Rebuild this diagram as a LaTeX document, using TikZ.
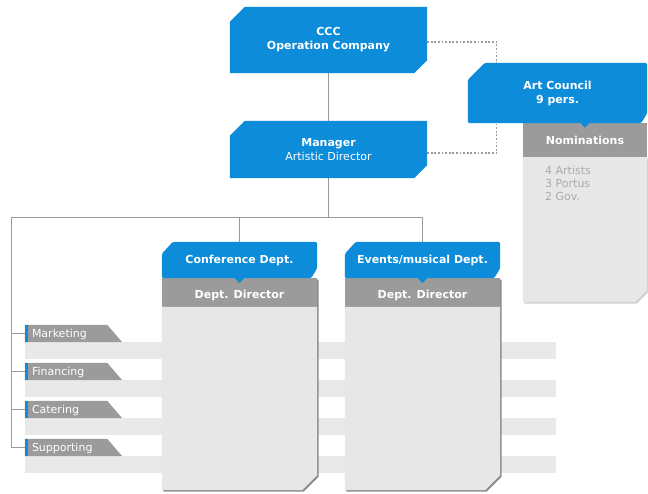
\documentclass[tikz,border=0pt]{standalone}
\usepackage{fontspec}
\setmainfont{DejaVu Sans}
\usetikzlibrary{backgrounds}
\definecolor{cblue}{HTML}{0C8CD9}
\definecolor{chead}{HTML}{9B9B9B}
\definecolor{cbody}{HTML}{E7E7E7}
\definecolor{cband}{HTML}{E9E9E9}
\definecolor{cline}{HTML}{9A9A9A}
\definecolor{cshadow}{HTML}{8C8C8C}
\definecolor{ctxt}{HTML}{ABABAB}
\begin{document}
\begin{tikzpicture}[x=1pt,y=-1pt,font=\fontsize{11}{14}\selectfont,
  box/.style={inner sep=0pt,text=white,align=center},
  tab/.style={inner ysep=0pt,inner xsep=7pt,text width=83pt,align=left,text=white,
    minimum height=17pt,text height=10pt,text depth=2pt},
  conn/.style={draw=cline,line width=1pt},
  dots/.style={draw=cline,line width=1.2pt,dash pattern=on 1.8pt off 1.8pt}]
\useasboundingbox (0,0) rectangle (648,493);
% ---------- nodes ----------
\node[box,minimum width=197pt,minimum height=66pt] (ccc) at (328.5,40)
  {\textbf{CCC}\\\textbf{Operation Company}};
\node[box,minimum width=197pt,minimum height=57pt] (mgr) at (328.5,149.5)
  {\textbf{Manager}\\Artistic Director};
\node[box,minimum width=179pt,minimum height=60pt] (art) at (557.5,93)
  {\textbf{Art Council}\\\textbf{9 pers.}};
\node[box,minimum width=124pt,minimum height=34pt] (nom) at (585,140)
  {\textbf{Nominations}};
\node[box,minimum width=124pt,minimum height=145pt] (nomb) at (585,229.5) {};
\node[anchor=north west,inner sep=0pt,text=ctxt,align=left,
  font=\fontsize{11}{13}\selectfont] (nomt) at (545,166)
  {4 Artists\\3 Portus\\2 Gov.};
% departments
\node[box,minimum width=155pt,minimum height=36pt] (conft) at (239.5,260)
  {\textbf{Conference Dept.}};
\node[box] (confd) at (239.5,295.5) {\textbf{Dept. Director}};
\node[box,minimum width=155pt,minimum height=183pt] (confb) at (239.5,398.5) {};
\node[box,minimum width=155pt,minimum height=36pt] (evtt) at (422.5,260)
  {\textbf{Events/musical Dept.}};
\node[box] (evtd) at (422.5,295.5) {\textbf{Dept. Director}};
\node[box,minimum width=155pt,minimum height=183pt] (evtb) at (422.5,398.5) {};
% side tabs
\node[tab] (mkt) at (73.5,333.5) {Marketing};
\node[tab] (fin) at (73.5,371.5) {Financing};
\node[tab] (cat) at (73.5,409.5) {Catering};
\node[tab] (sup) at (73.5,447.5) {Supporting};
\coordinate (bus) at (11,217);
% ---------- shapes behind ----------
\begin{pgfonlayer}{background}
\fill[white] (0,0) rectangle (648,493);
% bands
\foreach \n in {mkt,fin,cat,sup}{
  \fill[cband] (\n.south west) rectangle ([xshift=434pt,yshift=-17pt]\n.south east);
}
% top boxes
\fill[cblue] ([yshift=-15pt]ccc.north west) -- ([xshift=15pt]ccc.north west)
  -- (ccc.north east) -- ([yshift=13pt]ccc.south east)
  -- ([xshift=-13pt]ccc.south east) -- (ccc.south west) -- cycle;
\fill[cblue] ([yshift=-15pt]mgr.north west) -- ([xshift=15pt]mgr.north west)
  -- (mgr.north east) -- ([yshift=13pt]mgr.south east)
  -- ([xshift=-13pt]mgr.south east) -- (mgr.south west) -- cycle;
% art council
\fill[black!18] ([xshift=1.5pt,yshift=-1.5pt]nomb.north west)
  -- ([xshift=1.5pt,yshift=-1.5pt]nomb.north east)
  -- ([xshift=1.5pt,yshift=10.5pt]nomb.south east)
  -- ([xshift=-10.5pt,yshift=-1.5pt]nomb.south east)
  -- ([xshift=1.5pt,yshift=-1.5pt]nomb.south west) -- cycle;
\fill[cbody] (nomb.north west) -- (nomb.north east) -- ([yshift=12pt]nomb.south east)
  -- ([xshift=-12pt]nomb.south east) -- (nomb.south west) -- cycle;
\fill[chead] (nom.north west) rectangle (nom.south east);
\fill[cblue,rounded corners=1.5pt] ([yshift=-17pt]art.north west)
  -- ([xshift=17pt]art.north west) -- (art.north east)
  -- ([yshift=10pt]art.south east) -- ([xshift=-6pt]art.south east)
  -- (art.south west) -- cycle;
\fill[cblue] ([xshift=-5pt,yshift=0.5pt]nom.north) -- ([xshift=5pt,yshift=0.5pt]nom.north)
  -- ([yshift=-5pt]nom.north) -- cycle;
% departments
\foreach \d in {conf,evt}{
  \fill[cshadow] ([xshift=1.5pt,yshift=-1.5pt]\d t.south west)
    -- ([xshift=1.5pt,yshift=-1.5pt]\d t.south east)
    -- ([xshift=1.5pt,yshift=13.5pt]\d b.south east)
    -- ([xshift=-13.5pt,yshift=-1.5pt]\d b.south east)
    -- ([xshift=1.5pt,yshift=-1.5pt]\d b.south west) -- cycle;
  \fill[chead] (\d t.south west) rectangle (\d b.north east);
  \fill[cbody] (\d b.north west) -- (\d b.north east) -- ([yshift=15pt]\d b.south east)
    -- ([xshift=-15pt]\d b.south east) -- (\d b.south west) -- cycle;
  \fill[cblue,rounded corners=1.5pt] ([yshift=-12pt]\d t.north west)
    -- ([xshift=11pt]\d t.north west) -- (\d t.north east)
    -- ([yshift=10pt]\d t.south east) -- ([xshift=-6pt]\d t.south east)
    -- (\d t.south west) -- cycle;
  \fill[cblue] ([xshift=-5pt,yshift=0.5pt]\d t.south) -- ([xshift=5pt,yshift=0.5pt]\d t.south)
    -- ([yshift=-5pt]\d t.south) -- cycle;
}
% tabs
\foreach \n in {mkt,fin,cat,sup}{
  \fill[chead] (\n.north west) -- ([xshift=-15pt]\n.north east) -- (\n.south east)
    -- (\n.south west) -- cycle;
  \fill[cblue] (\n.north west) rectangle ([xshift=3pt]\n.south west);
}
% connectors
\draw[conn] (ccc) -- (mgr);
\draw[conn] (mgr.south) -- (mgr.south |- bus);
\draw[conn] (bus) -- (bus -| evtt.north) -- (evtt.north);
\draw[conn] (bus -| conft.north) -- (conft.north);
\draw[conn] (bus) |- (sup.west);
\draw[conn] (bus |- mkt) -- (mkt.west);
\draw[conn] (bus |- fin) -- (fin.west);
\draw[conn] (bus |- cat) -- (cat.west);
\draw[dots] ([yshift=-2pt]ccc.east) -| ([xshift=29pt]art.north west);
\draw[dots] ([yshift=-3.5pt]mgr.east) -| ([xshift=29pt]art.south west);
\end{pgfonlayer}
\end{tikzpicture}
\end{document}
